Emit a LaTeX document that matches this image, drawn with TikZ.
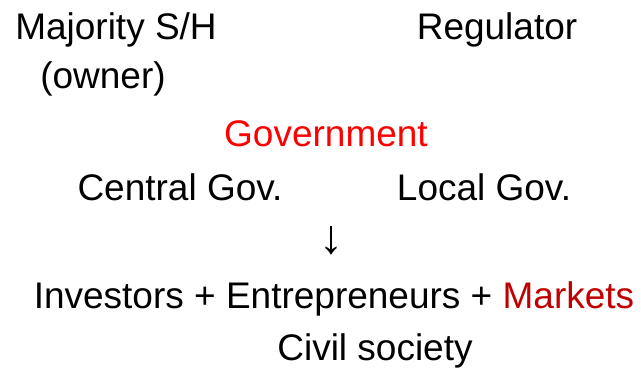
\documentclass[tikz,border=0pt]{standalone}
\usepackage{fontspec}
\setmainfont{Liberation Sans}
\definecolor{govred}{RGB}{255,0,0}
\definecolor{marketred}{RGB}{192,0,0}
\begin{document}
\begin{tikzpicture}[x=1pt,y=-1pt,
  label/.style={anchor=base,inner sep=0pt,font=\fontsize{37}{42}\selectfont}]

  % Fix the size of the page
  \useasboundingbox (0,0) rectangle (641,370);

  % Top row: owner and regulator
  \node[label] (owner) at (116,39) {Majority S/H};
  \node[label] (ownertag) at (103,88) {(owner)};
  \node[label] (regulator) at (497,39) {Regulator};

  % Government and its two levels
  \node[label,text=govred] (gov) at (326,146) {Government};
  \node[label] (central) at (180,200) {Central Gov.};
  \node[label] (local) at (484,200) {Local Gov.};

  % The arrow down
  \node[label,font=\fontsize{48}{50}\selectfont] (arrow) at (331,253) {↓};

  % Bottom rows
  \node[label] (investors) at (334,308)
    {Investors + Entrepreneurs + \textcolor{marketred}{Markets}};
  \node[label] (civil) at (375,360) {Civil society};

\end{tikzpicture}
\end{document}
